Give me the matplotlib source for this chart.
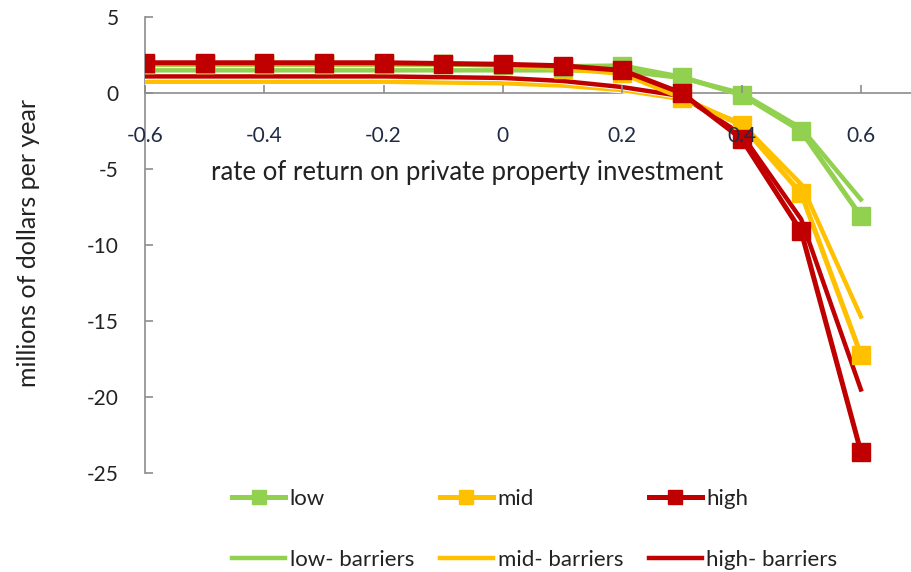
import matplotlib
matplotlib.use('Agg')
import matplotlib.pyplot as plt
import matplotlib.patheffects as pe

# rate of return values
rate = [-0.6, -0.5, -0.4, -0.3, -0.2, -0.1, 0.0, 0.1, 0.2, 0.3, 0.4, 0.5, 0.6]

# series values (millions of dollars per year)
low = [1.9, 1.9, 1.9, 1.9, 1.9, 1.9, 1.85, 1.75, 1.8, 1.05, -0.1, -2.5, -8.1]
mid = [1.9, 1.9, 1.9, 1.9, 1.9, 1.9, 1.85, 1.6, 1.3, -0.3, -2.1, -6.6, -17.2]
high = [2.0, 2.0, 2.0, 2.0, 2.0, 1.95, 1.9, 1.8, 1.5, 0.0, -3.0, -9.1, -23.6]
low_barriers = [1.5, 1.5, 1.5, 1.5, 1.5, 1.5, 1.5, 1.5, 1.45, 1.0, 0.0, -2.3, -7.0]
mid_barriers = [0.75, 0.75, 0.75, 0.75, 0.75, 0.7, 0.65, 0.5, 0.2, -0.4, -2.0, -6.0, -14.7]
high_barriers = [1.1, 1.1, 1.1, 1.1, 1.1, 1.05, 1.0, 0.8, 0.4, -0.2, -2.7, -8.3, -19.5]

xticks = [-0.6, -0.4, -0.2, 0, 0.2, 0.4, 0.6]
xtick_labels = ['-0.6', '-0.4', '-0.2', '0', '0.2', '0.4', '0.6']
yticks = [5, 0, -5, -10, -15, -20, -25]

green = '#92d050'
yellow = '#ffc000'
red = '#c00000'


def main():
    plt.rcParams['font.family'] = ['Lato', 'DejaVu Sans']
    plt.rcParams['axes.unicode_minus'] = False
    fig = plt.figure(figsize=(9.11, 5.72), dpi=100)
    ax = fig.add_axes([0.159, 0.173, 0.841, 0.797])

    white_edge = [pe.Stroke(linewidth=4.6, foreground='white'), pe.Normal()]

    # lines without markers
    h_lb, = ax.plot(rate, low_barriers, color=green, lw=3.2, label='low- barriers',
                    path_effects=white_edge, zorder=2)
    h_mb, = ax.plot(rate, mid_barriers, color=yellow, lw=3.2, label='mid- barriers',
                    path_effects=white_edge, zorder=2)
    h_hb, = ax.plot(rate, high_barriers, color=red, lw=3.2, label='high- barriers',
                    path_effects=white_edge, zorder=2)

    # lines with square markers, high on top
    h_m, = ax.plot(rate, mid, color=yellow, lw=3.6, marker='s', ms=12.5, label='mid', zorder=3)
    h_l, = ax.plot(rate, low, color=green, lw=3.6, marker='s', ms=12.5, label='low', zorder=3)
    h_h, = ax.plot(rate, high, color=red, lw=3.6, marker='s', ms=12.5, label='high', zorder=4)

    ax.set_xlim(-0.6, 0.684)
    ax.set_ylim(-25, 5)
    ax.set_xticks(xticks)
    ax.set_xticklabels(xtick_labels)
    ax.set_yticks(yticks)

    for side in ['top', 'right']:
        ax.spines[side].set_visible(False)
    ax.spines['bottom'].set_position(('data', 0))
    ax.spines['left'].set_position(('data', -0.6))
    for side in ['bottom', 'left']:
        ax.spines[side].set_color('#8c8c8c')
        ax.spines[side].set_linewidth(1.2)
        ax.spines[side].set_zorder(1)
    ax.tick_params(axis='both', direction='in', length=6, width=1.2, color='#8c8c8c',
                   labelsize=15, labelcolor='#222222')
    ax.tick_params(axis='x', pad=24)
    ax.tick_params(axis='y', pad=19)
    for lab in ax.get_xticklabels():
        lab.set_color('#1f2a44')
    # x tick labels sit over the curves
    ax.xaxis.set_zorder(5)

    ax.text(0.42, 0.66, 'rate of return on private property investment',
            transform=ax.transAxes, ha='center', va='center', fontsize=18.5, color='#222222')
    fig.text(0.031, 0.575, 'millions of dollars per year', rotation=90,
             ha='center', va='center', fontsize=18, color='#222222')

    # legend: two rows, three columns (filled column by column)
    handles = [h_l, h_lb, h_m, h_mb, h_h, h_hb]
    leg = fig.legend(handles=handles, labels=[h.get_label() for h in handles],
                     ncol=3, loc='upper left', bbox_to_anchor=(0.2547, 0.145),
                     frameon=False, fontsize=16, handlelength=2.4, handletextpad=0.2,
                     labelspacing=1.85, columnspacing=1.15, borderpad=0, borderaxespad=0,
                     markerscale=0.8)
    for t in leg.get_texts():
        t.set_color('#222222')

    fig.savefig('out.png', dpi=100)


if __name__ == '__main__':
    main()
